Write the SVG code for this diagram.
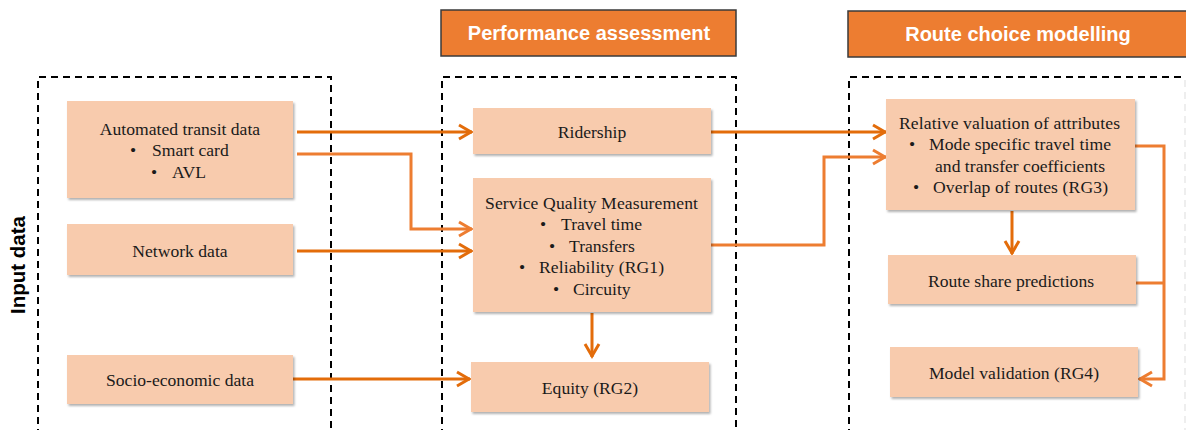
<svg xmlns="http://www.w3.org/2000/svg" width="1186" height="430" viewBox="0 0 1186 430">
<style>
.dash{fill:none;stroke:#000;stroke-width:2;stroke-dasharray:7 5}
.hdr{fill:#ED7D31;stroke:#3A3A3A;stroke-width:1.5}
.hdrt{font-family:"Liberation Sans",Arial,sans-serif;font-weight:bold;font-size:20px;fill:#fff;text-anchor:middle}
.box{fill:#F8CBAD;filter:url(#sh)}
.t{font-family:"Liberation Serif","Times New Roman",serif;font-size:17.6px;fill:#1a1a1a}
.c{text-anchor:middle}
.dk{fill:none;stroke:#E36C0A;stroke-width:3}
.lt{fill:none;stroke:#ED7D31;stroke-width:3}
.dka{marker-end:url(#ahd)}
.lta{marker-end:url(#ahl)}
</style>
<defs>
<filter id="sh" x="-10%" y="-10%" width="120%" height="130%">
<feDropShadow dx="1.5" dy="2" stdDeviation="1.2" flood-color="#000" flood-opacity="0.3"/>
</filter>
<marker id="ahd" markerUnits="userSpaceOnUse" markerWidth="20" markerHeight="20" viewBox="-16 -10 20 20" refX="0" refY="0" orient="auto">
<path d="M-13,-7 L-1,0 L-13,7" fill="none" stroke="#E36C0A" stroke-width="3"/>
</marker>
<marker id="ahl" markerUnits="userSpaceOnUse" markerWidth="20" markerHeight="20" viewBox="-16 -10 20 20" refX="0" refY="0" orient="auto">
<path d="M-13,-7 L-1,0 L-13,7" fill="none" stroke="#ED7D31" stroke-width="3"/>
</marker>
</defs>

<g id="frames">
<path class="dash" d="M38,436 V77 H331 V436"/>
<path class="dash" d="M442,436 V77 H736 V436"/>
<path class="dash" d="M849,436 V77 H1190"/>
<line x1="1185" y1="80" x2="1185" y2="430" stroke="#ddd" stroke-width="1" stroke-dasharray="7 5"/>
</g>

<g id="label-input">
<text transform="translate(25,265) rotate(-90)" font-family="'Liberation Sans',Arial,sans-serif" font-weight="bold" font-size="20.5" text-anchor="middle" fill="#000">Input data</text>
</g>

<g id="hdr-performance">
<rect class="hdr" x="441" y="10" width="295" height="46"/>
<text class="hdrt" x="589" y="40">Performance assessment</text>
</g>
<g id="hdr-route">
<rect class="hdr" x="848" y="11" width="345" height="46"/>
<text class="hdrt" x="1018" y="41">Route choice modelling</text>
</g>

<g id="connectors">
<line class="dk dka" x1="297" y1="132" x2="472" y2="132"/>
<polyline class="lt lta" points="297,154 411,154 411,229 472,229"/>
<line class="dk dka" x1="297" y1="251" x2="472" y2="251"/>
<line class="dk dka" x1="293" y1="379" x2="470" y2="379"/>
<line class="dk dka" x1="592" y1="313" x2="592" y2="357"/>
<line class="dk dka" x1="711" y1="132" x2="886" y2="132"/>
<polyline class="lt lta" points="711,245 824,245 824,157 886,157"/>
<line class="dk dka" x1="1012" y1="211" x2="1012" y2="254"/>
<polyline class="lt" points="1129,146 1164,146 1164,283"/>
<line class="lt" x1="1136" y1="283" x2="1164" y2="283"/>
<polyline class="lt lta" points="1164,283 1164,379 1139,379"/>
</g>

<g id="n-automated">
<rect class="box" x="67" y="101" width="226" height="97"/>
<text class="t c" x="180" y="135">Automated transit data</text>
<text class="t" x="130" y="156">•</text><text class="t" x="152" y="156">Smart card</text>
<text class="t" x="151" y="178">•</text><text class="t" x="172" y="178">AVL</text>
</g>
<g id="n-network">
<rect class="box" x="67" y="224" width="226" height="51"/>
<text class="t c" x="180" y="257">Network data</text>
</g>
<g id="n-socio">
<rect class="box" x="67" y="355" width="226" height="49"/>
<text class="t c" x="180" y="386">Socio-economic data</text>
</g>

<g id="n-ridership">
<rect class="box" x="473" y="108" width="238" height="46"/>
<text class="t c" x="592" y="138">Ridership</text>
</g>
<g id="n-sqm">
<rect class="box" x="473" y="178" width="238" height="134"/>
<text class="t" x="485" y="209" textLength="213" lengthAdjust="spacing">Service Quality Measurement</text>
<text class="t" x="540" y="230">•</text><text class="t" x="561" y="230" textLength="81" lengthAdjust="spacing">Travel time</text>
<text class="t" x="549" y="252">•</text><text class="t" x="569" y="252">Transfers</text>
<text class="t" x="519" y="273">•</text><text class="t" x="539" y="273" textLength="125" lengthAdjust="spacing">Reliability (RG1)</text>
<text class="t" x="553" y="295">•</text><text class="t" x="573" y="295">Circuity</text>
</g>
<g id="n-equity">
<rect class="box" x="471" y="362" width="238" height="50"/>
<text class="t c" x="590" y="394">Equity (RG2)</text>
</g>

<g id="n-relative">
<rect class="box" x="886" y="99" width="249" height="111"/>
<text class="t" x="899" y="129" textLength="221" lengthAdjust="spacing">Relative valuation of attributes</text>
<text class="t" x="909" y="150">•</text><text class="t" x="929" y="150" textLength="182" lengthAdjust="spacing">Mode specific travel time</text>
<text class="t" x="935" y="172" textLength="170" lengthAdjust="spacing">and transfer coefficients</text>
<text class="t" x="913" y="193">•</text><text class="t" x="933" y="193" textLength="175" lengthAdjust="spacing">Overlap of routes (RG3)</text>
</g>
<g id="n-routeshare">
<rect class="box" x="888" y="255" width="248" height="49"/>
<text class="t c" x="1011" y="287">Route share predictions</text>
</g>
<g id="n-validation">
<rect class="box" x="890" y="347" width="248" height="50"/>
<text class="t c" x="1014" y="379">Model validation (RG4)</text>
</g>
</svg>
